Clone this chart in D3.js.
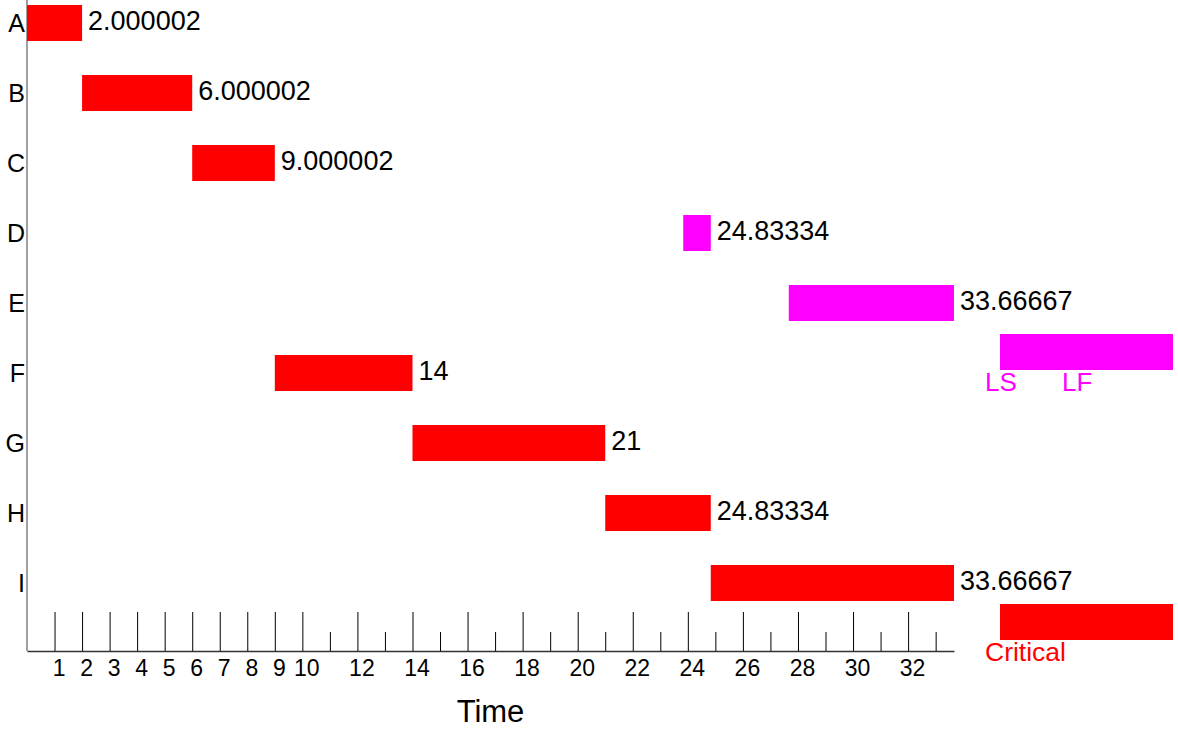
<!DOCTYPE html>
<html>
<head>
<meta charset="utf-8">
<script src="https://cdn.jsdelivr.net/npm/d3@7"></script>
<style>
  html, body { margin: 0; padding: 0; background: #fff; }
  svg { display: block; font-family: "Liberation Sans", Arial, sans-serif; }
</style>
</head>
<body>
<svg id="chart" width="1178" height="730"></svg>
<script>
// ---- data ----
const tasks    = ["A", "B", "C", "D", "E", "F", "G", "H", "I"];
const starts   = [0, 2, 6, 23.83334, 27.66667, 9, 14, 21, 24.83334];
const finishes = [2.000002, 6.000002, 9.000002, 24.83334, 33.66667, 14, 21, 24.83334, 33.66667];
const labels   = ["2.000002", "6.000002", "9.000002", "24.83334", "33.66667", "14", "21", "24.83334", "33.66667"];
const critical = [true, true, true, false, false, true, true, true, true];
const majorTicks = [1, 2, 3, 4, 5, 6, 7, 8, 9, 10, 12, 14, 16, 18, 20, 22, 24, 26, 28, 30, 32];
const minorTicks = [11, 13, 15, 17, 19, 21, 23, 25, 27, 29, 31, 33];
const timeMax = 33.66667;
const legendTop = ["LS", "LF"];
const legendBottom = ["Critical"];

// ---- setup ----
const RED = "#ff0000", MAG = "#ff00ff";
const svg = d3.select("#chart");
const x = d3.scaleLinear().domain([0, timeMax]).range([27, 954]);
const y = d3.scalePoint().domain(tasks).range([23, 583]);
const barH = 36;
const axisY = 651;

// y axis line
svg.append("line")
  .attr("x1", x(0)).attr("x2", x(0))
  .attr("y1", 0).attr("y2", axisY)
  .attr("stroke", "#808080").attr("stroke-width", 1.5);

// y labels
const yAxis = svg.append("g").attr("transform", `translate(${x(0) - 1},0)`)
  .call(d3.axisLeft(y).tickSize(0).tickPadding(1));
yAxis.select(".domain").remove();
yAxis.selectAll("text").attr("font-size", 25).attr("fill", "#000")
  .attr("font-family", "Liberation Sans, Arial, sans-serif");

// bars
const rows = tasks.map((t, i) => ({ t, s: starts[i], f: finishes[i], lab: labels[i], c: critical[i] }));
svg.append("g").selectAll("rect").data(rows).join("rect")
  .attr("x", d => x(d.s))
  .attr("y", d => y(d.t) - barH / 2)
  .attr("width", d => x(d.f) - x(d.s))
  .attr("height", barH)
  .attr("fill", d => d.c ? RED : MAG);

svg.append("g").selectAll("text").data(rows).join("text")
  .attr("x", d => x(d.f) + 6)
  .attr("y", d => y(d.t))
  .attr("dy", "0.25em")
  .attr("font-size", 27)
  .attr("fill", "#000")
  .text(d => d.lab);

// x axis: major ticks
const xMajor = svg.append("g").attr("transform", `translate(0,${axisY})`)
  .call(d3.axisBottom(x).tickValues(majorTicks).tickSizeInner(-39).tickSizeOuter(0).tickPadding(9).tickFormat(d3.format("d")));
xMajor.select(".domain").attr("stroke", "#333").attr("stroke-width", 1.5);
xMajor.selectAll(".tick line").attr("stroke", "#000");
xMajor.selectAll("text").attr("font-size", 23).attr("fill", "#000").attr("dx", 4)
  .attr("font-family", "Liberation Sans, Arial, sans-serif");

// x axis: minor ticks
const xMinor = svg.append("g").attr("transform", `translate(0,${axisY})`)
  .call(d3.axisBottom(x).tickValues(minorTicks).tickSizeInner(-19).tickSizeOuter(0).tickFormat(""));
xMinor.select(".domain").remove();
xMinor.selectAll(".tick line").attr("stroke", "#000");

// axis title
svg.append("text")
  .attr("x", (x.range()[0] + x.range()[1]) / 2)
  .attr("y", 722)
  .attr("text-anchor", "middle")
  .attr("font-size", 31)
  .attr("fill", "#000")
  .text("Time");

// legend
const lg = svg.append("g");
lg.append("rect").attr("x", 1000).attr("y", 334).attr("width", 173).attr("height", barH).attr("fill", MAG);
lg.selectAll("text.top").data(legendTop).join("text").attr("class", "top")
  .attr("x", (d, i) => 985 + i * 77).attr("y", 391)
  .attr("font-size", 26).attr("fill", MAG).text(d => d);
lg.append("rect").attr("x", 1000).attr("y", 604).attr("width", 173).attr("height", barH).attr("fill", RED);
lg.selectAll("text.bot").data(legendBottom).join("text").attr("class", "bot")
  .attr("x", 985).attr("y", 661)
  .attr("font-size", 26.5).attr("fill", RED).text(d => d);
</script>
</body>
</html>
